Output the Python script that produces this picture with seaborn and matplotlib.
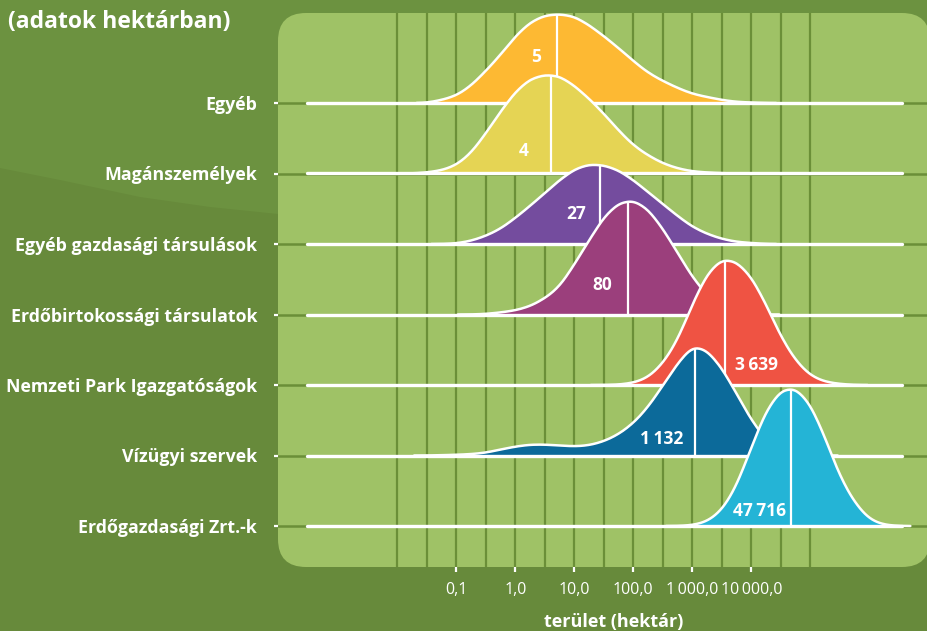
"""
Ridgeline chart: erdőterület-eloszlás tulajdonosi csoportonként (log skála)
"""

import numpy as np
import matplotlib
matplotlib.use('Agg')
import matplotlib.pyplot as plt
from matplotlib.patches import FancyBboxPatch, Polygon
from matplotlib.ticker import NullFormatter
import seaborn as sns

sns.set_theme(style='white')
plt.rcParams['font.family'] = ['Open Sans', 'DejaVu Sans']

# ---- data ----
groups = ['Egyéb', 'Magánszemélyek', 'Egyéb gazdasági társulások',
          'Erdőbirtokossági társulatok', 'Nemzeti Park Igazgatóságok',
          'Vízügyi szervek', 'Erdőgazdasági Zrt.-k']
medians = [5, 4, 27, 80, 3639, 1132, 47716]
median_labels = ['5', '4', '27', '80', '3\u2009639', '1\u2009132', '47\u2009716']
xtick_values = [0.1, 1, 10, 100, 1000, 10000]
xtick_labels = ['0,1', '1,0', '10,0', '100,0', '1\u2009000,0', '10\u2009000,0']

# curve heights (px), every quarter decade 10^-1.5 ... 10^6.5
log_area = np.arange(-1.5, 6.51, 0.25)
dens_egyeb = [0, 3, 7, 17, 32, 48, 67, 81, 88, 89, 87, 78, 67, 55, 42, 30, 22,
              15, 9, 6, 3, 1, 0.5, 0, 0, 0, 0, 0, 0, 0, 0, 0, 0]
dens_magan = [1, 3, 8, 20, 40, 62, 82, 95, 99, 98, 88, 75, 60, 43, 28, 18, 10,
              5, 2, 1, 0.3, 0, 0, 0, 0, 0, 0, 0, 0, 0, 0, 0, 0]
dens_gazd = [0, 0, 0.5, 3, 8, 15, 26, 38, 51, 64, 75, 80, 79, 74, 64, 52, 40,
             28, 17, 10, 5, 2, 1, 0, 0, 0, 0, 0, 0, 0, 0, 0, 0]
dens_erdobirt = [0, 0, 0, 0, 0.5, 2, 4, 8, 16, 27, 50, 74, 98, 112, 115, 106, 86,
                 62, 37, 19, 7, 2, 0.5, 0, 0, 0, 0, 0, 0, 0, 0, 0, 0]
dens_npi = [0, 0, 0, 0, 0, 0, 0, 0, 0, 0, 0, 0, 0, 0.3, 2, 7, 21,
            44, 81, 112, 127, 124, 109, 81, 48, 24, 9, 3, 1, 0, 0, 0, 0]
dens_vizugy = [0, 0.3, 0.7, 1.3, 2.7, 6, 9, 11, 11, 10, 9, 10, 14, 21, 32, 48, 70,
               92, 111, 106, 88, 62, 35, 15, 5, 1.5, 0.5, 0, 0, 0, 0, 0, 0]
dens_zrt = [0, 0, 0, 0, 0, 0, 0, 0, 0, 0, 0, 0, 0, 0, 0, 0, 0,
            0, 0.7, 4, 15, 39, 79, 116, 137, 139, 123, 89, 49, 23, 6, 1, 0]
densities = [dens_egyeb, dens_magan, dens_gazd, dens_erdobirt,
             dens_npi, dens_vizugy, dens_zrt]

colors = ['#FDB933', '#E5D454', '#744C9E', '#9B3F7C', '#EF5343', '#0C6A9A', '#24B4D6']

# label placement (offset points from median at baseline)
label_offsets = [(-11, 33), (-16, 16), (-10, 21.5), (-11, 21.5), (7, 14.5), (-9, 12), (-4, 11)]
label_ha = ['right', 'right', 'right', 'right', 'left', 'right', 'right']

BG_DARK = '#678A3B'
BG_LIGHT = '#6C9240'
PANEL = '#9FC266'
GRID = '#6B8F38'

W, H = 927, 631
PX_DEC = 59.0      # pixels per decade
X_ONE = 515.3      # pixel of 10^0
AX_L, AX_R = 278, 927
BASE0, ROW_STEP = 103, 70.5
STEP = 0.25        # quarter decade sampling
BW = 0.165         # kde bandwidth in decades


def px_rect(x0, y0, x1, y1):
    return [x0 / W, 1 - y1 / H, (x1 - x0) / W, (y1 - y0) / H]


x_lo = 10 ** ((AX_L - X_ONE) / PX_DEC)
x_hi = 10 ** ((AX_R - X_ONE) / PX_DEC)

fig = plt.figure(figsize=(W / 100, H / 100), dpi=100)
fig.patch.set_facecolor(BG_DARK)

# background band + rounded panel
bg = fig.add_axes([0, 0, 1, 1], zorder=-10)
bg.set_xlim(0, W)
bg.set_ylim(H, 0)
bg.axis('off')
bg.add_patch(Polygon([(0, 0), (W, 0), (W, 240), (278, 214), (210, 207),
                      (140, 197), (60, 180), (0, 168)], closed=True,
                     fc=BG_LIGHT, ec='none'))
bg.add_patch(FancyBboxPatch((278, 13), 652, 554,
                            boxstyle='round,pad=0,rounding_size=28',
                            fc=PANEL, ec='none'))

# main axes: grid, ticks, labels
ax = fig.add_axes(px_rect(AX_L, 13, AX_R, 567))
ax.set_facecolor('none')
ax.set_xscale('log')
ax.set_xlim(x_lo, x_hi)
ax.set_ylim((567 - BASE0) / ROW_STEP, (13 - BASE0) / ROW_STEP)
ax.set_xticks(xtick_values, xtick_labels)
ax.set_xticks(10 ** np.arange(-2, 5.01, 0.5), minor=True)
ax.xaxis.set_minor_formatter(NullFormatter())
ax.set_yticks(range(len(groups)), groups)
for s in ax.spines.values():
    s.set_visible(False)
ax.grid(which='both', axis='x', color=GRID, lw=1.6)
ax.grid(which='major', axis='y', color=GRID, lw=1.8)
ax.tick_params(axis='x', which='major', bottom=True, length=3.5, width=1.6,
               color='white', pad=7, labelsize=11.5, labelcolor='white')
ax.tick_params(axis='x', which='minor', bottom=False, length=0)
ax.tick_params(axis='y', left=True, length=3, width=1.6, color='white',
               pad=12, labelsize=12.8, labelcolor='white')
for lbl in ax.get_yticklabels():
    lbl.set_fontweight('bold')
ax.set_xlabel('terület (hektár)', fontsize=13, fontweight='bold', color='white')
ax.xaxis.set_label_coords((614 - AX_L) / (AX_R - AX_L), (567 - 622) / 554)
ax.xaxis.label.set_va('center')

fig.text(8 / W, 1 - 22 / H, '(adatok hektárban)', fontsize=16.5,
         fontweight='bold', color='white', va='center', ha='left')

# ridges, top to bottom (lower rows drawn on top)
for i, g in enumerate(groups):
    base = BASE0 + ROW_STEP * i
    rax = fig.add_axes(px_rect(AX_L, base - 160, AX_R, base + 10))
    rax.set_facecolor('none')

    h = np.array(densities[i], dtype=float)
    keep = h > 0
    lx, w = log_area[keep], h[keep]
    bw = BW / np.sqrt(np.cov(lx, aweights=w))
    k = 1.0 / (w.sum() * STEP)   # density units per pixel

    sns.kdeplot(x=10 ** lx, weights=w, log_scale=True, bw_method=bw, cut=1.5,
                fill=True, color=colors[i], alpha=1, linewidth=0, ax=rax)
    poly = rax.collections[-1]
    rax.axhline(0, xmin=(307 - AX_L) / (AX_R - AX_L), xmax=(902 - AX_L) / (AX_R - AX_L),
                color='white', lw=2.4)
    vl = rax.axvline(medians[i], color='white', lw=1.6)
    vl.set_clip_path(poly.get_paths()[0], poly.get_transform())
    sns.kdeplot(x=10 ** lx, weights=w, log_scale=True, bw_method=bw, cut=1.5,
                color='white', linewidth=1.8, ax=rax)

    rax.annotate(median_labels[i], xy=(medians[i], 0), xytext=label_offsets[i],
                 textcoords='offset points', ha=label_ha[i], va='center',
                 color='white', fontweight='bold', fontsize=12.5)

    rax.set_xlim(x_lo, x_hi)
    rax.set_ylim(-10 * k, 160 * k)
    rax.axis('off')

fig.savefig('out.png', dpi=100, facecolor=fig.get_facecolor())
